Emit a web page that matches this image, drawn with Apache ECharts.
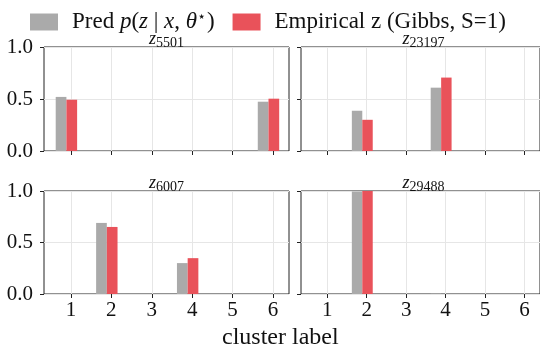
<!DOCTYPE html>
<html>
<head>
<meta charset="utf-8">
<script src="https://cdn.jsdelivr.net/npm/echarts@6/dist/echarts.min.js"></script>
<style>
  html, body { margin: 0; padding: 0; background: #fff; }
  #chart { width: 540px; height: 354px; }
</style>
</head>
<body>
<div id="chart"></div>
<script>
// 数据
const clusters = [1, 2, 3, 4, 5, 6];
const yTicks = [0, 0.5, 1];
const panelIds = ['5501', '23197', '6007', '29488'];
const pred5501 = [0.52, 0, 0, 0, 0, 0.474];
const emp5501 = [0.493, 0, 0, 0, 0, 0.503];
const pred23197 = [0, 0.387, 0, 0.609, 0, 0];
const emp23197 = [0, 0.30, 0, 0.706, 0, 0];
const pred6007 = [0, 0.69, 0, 0.30, 0, 0];
const emp6007 = [0, 0.651, 0, 0.348, 0, 0];
const pred29488 = [0, 0.995, 0, 0.005, 0, 0];
const emp29488 = [0, 1.0, 0, 0, 0, 0];

const predSets = [pred5501, pred23197, pred6007, pred29488];
const empSets = [emp5501, emp23197, emp6007, emp29488];

const GREY = '#aaaaaa';
const RED = '#e9525a';
const FONT = 'Liberation Serif';
const BW = 0.265; // 柱子宽度 (x 单位)

const grids = [
  { left: 44, top: 47, width: 245, height: 104 },
  { left: 301, top: 47, width: 245, height: 104 },
  { left: 44, top: 191, width: 245, height: 103 },
  { left: 301, top: 191, width: 245, height: 103 }
];

function barSeries(name, vals, idx, offset, color) {
  return {
    name: name,
    type: 'custom',
    xAxisIndex: idx,
    yAxisIndex: idx,
    itemStyle: { color: color },
    data: clusters.map((c, i) => [c + offset, vals[i]]),
    renderItem: function (params, api) {
      const x = api.value(0), v = api.value(1);
      const p0 = api.coord([x - BW / 2, v]);
      const p1 = api.coord([x + BW / 2, 0]);
      return {
        type: 'rect',
        shape: { x: p0[0], y: p0[1], width: p1[0] - p0[0], height: p1[1] - p0[1] },
        style: { fill: color }
      };
    }
  };
}

const xAxes = grids.map((g, i) => ({
  type: 'value',
  gridIndex: i,
  min: 0.333,
  max: 6.395,
  axisLine: { show: false },
  axisTick: { show: true, length: 4, customValues: clusters, lineStyle: { color: '#222' } },
  axisLabel: {
    show: i >= 2, customValues: clusters, margin: 6,
    fontFamily: FONT, fontSize: 21, color: '#111'
  },
  splitLine: { show: true, lineStyle: { color: '#e6e6e6', width: 1 } }
}));

const yAxes = grids.map((g, i) => ({
  type: 'value',
  gridIndex: i,
  min: 0,
  max: 1,
  interval: 0.5,
  axisLine: { show: false },
  axisTick: { show: true, length: 4, lineStyle: { color: '#222' } },
  axisLabel: {
    show: i % 2 === 0, margin: 11,
    fontFamily: FONT, fontSize: 21, color: '#111',
    formatter: v => v.toFixed(1)
  },
  splitLine: { show: true, lineStyle: { color: '#e6e6e6', width: 1 } }
}));

const titles = grids.map((g, i) => ({
  text: '{z|z}{s|' + panelIds[i] + '}',
  left: g.left + g.width / 2,
  top: g.top - 17,
  textAlign: 'center',
  padding: 0,
  textStyle: {
    fontWeight: 'normal',
    rich: {
      z: { fontFamily: FONT, fontStyle: 'italic', fontWeight: 'normal', fontSize: 18, color: '#111', padding: [0, 0, 4, 0] },
      s: { fontFamily: FONT, fontWeight: 'normal', fontSize: 14, color: '#111', padding: [5, 0, 0, 0] }
    }
  }
}));

let series = [];
grids.forEach((g, i) => {
  series.push(barSeries('Pred', predSets[i], i, -0.245, GREY));
  series.push(barSeries('Empirical', empSets[i], i, 0.02, RED));
});

const chart = echarts.init(document.getElementById('chart'));
chart.setOption({
  animation: false,
  backgroundColor: '#fff',
  textStyle: { fontFamily: FONT },
  title: titles,
  legend: {
    left: 30,
    top: 10,
    padding: 0,
    itemWidth: 28,
    itemHeight: 17,
    itemGap: 18,
    data: [
      { name: 'Pred', icon: 'rect', itemStyle: { color: GREY } },
      { name: 'Empirical', icon: 'rect', itemStyle: { color: RED } }
    ],
    formatter: function (name) {
      if (name === 'Pred') {
        return '{n|Pred }{i|p}{n|(}{i|z}{n| | }{i|x}{n|, }{i|θ}{sup|⋆}{n|)}';
      }
      return '{n|Empirical z (Gibbs, S=1)}';
    },
    textStyle: {
      padding: [0, 0, 0, 9],
      rich: {
        n: { fontFamily: FONT, fontSize: 23, color: '#111' },
        i: { fontFamily: FONT, fontSize: 23, fontStyle: 'italic', color: '#111' },
        sup: { fontFamily: 'DejaVu Sans', fontSize: 14, color: '#111', padding: [0, 1, 10, 0] }
      }
    }
  },
  grid: grids.map(g => Object.assign({ show: true, borderColor: '#222', borderWidth: 1, backgroundColor: 'transparent' }, g)),
  xAxis: xAxes,
  yAxis: yAxes,
  series: series,
  graphic: [{
    type: 'text',
    left: 222,
    top: 326,
    style: { text: 'cluster label', fontFamily: FONT, fontSize: 24, fill: '#111' }
  }]
});
</script>
</body>
</html>
